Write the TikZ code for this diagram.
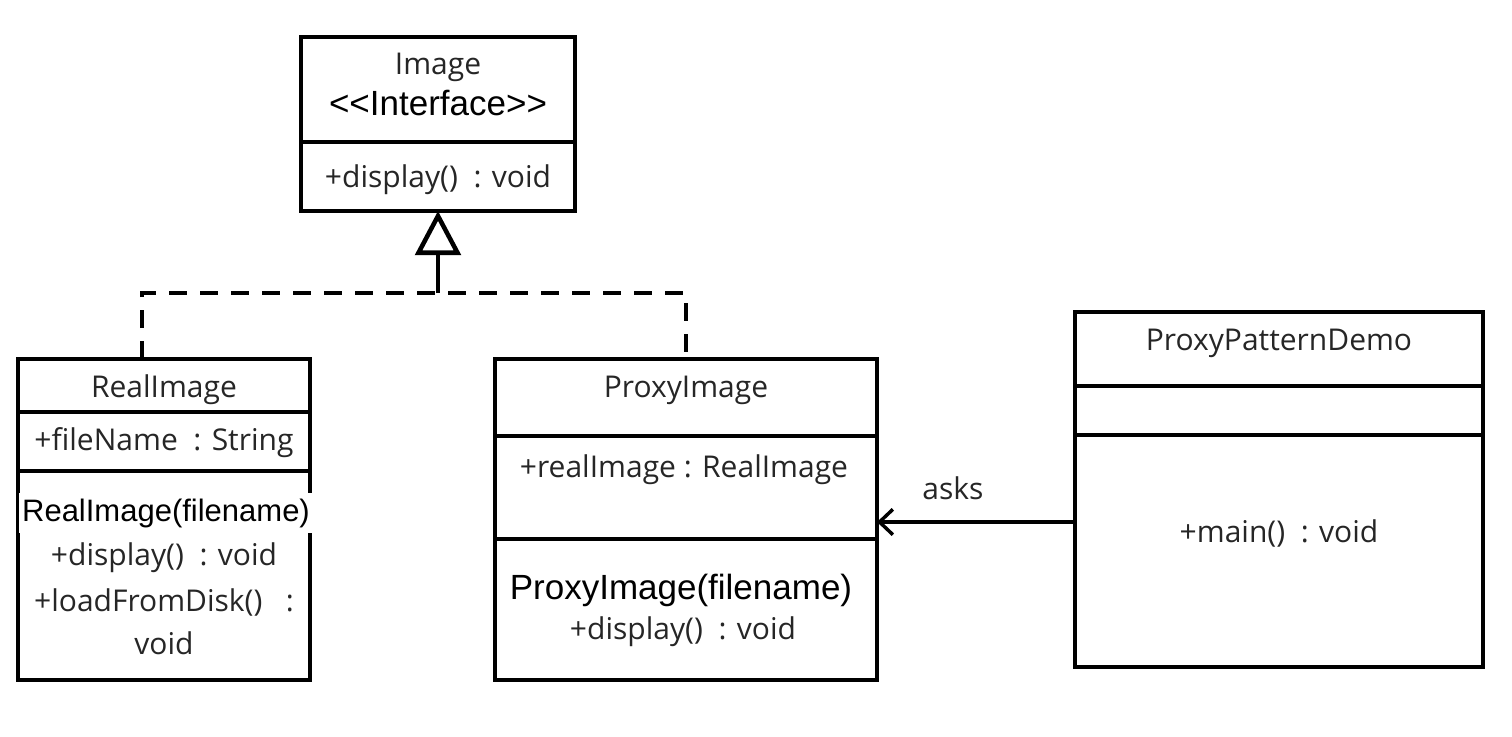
\documentclass[tikz,border=0pt]{standalone}
\usepackage{fontspec}
\setmainfont{Open Sans}
\newfontfamily\arialfont{Liberation Sans}
\usetikzlibrary{arrows.meta, calc}

\tikzset{
  umlbox/.style={draw, line width=3.6pt, outer sep=0pt, inner sep=0pt, anchor=north west},
  umltext/.style={text=black!85, font=\fontsize{22.5}{27}\selectfont},
  bigtext/.style={font=\arialfont\fontsize{26.25}{30}\selectfont},
  dashline/.style={line width=3.4pt, dash pattern=on 13.5pt off 9.75pt},
  realize/.style={line width=3.4pt, -{Triangle[open, length=33pt, width=34pt]}},
  asksline/.style={line width=2.6pt, -{Straight Barb[length=10pt, width=19pt]}}
}

\begin{document}
\begin{tikzpicture}[x=0.75pt, y=-0.75pt]
    \useasboundingbox (0,0) rectangle (1512,736);

    % Image, the interface
    \node[umlbox, minimum width=205.5pt, minimum height=78.75pt] (imgHead) at (301,37) {};
    \node[umlbox, minimum width=205.5pt, minimum height=51.75pt] (imgOps) at (imgHead.south west) {};
    \node[umltext] (imgName) at (438,67) {Image};
    \node[bigtext] (imgStereo) at (438,103) {<<Interface>>};
    \node[umltext] (imgOp) at (438,180) {+display()\ \ : void};

    % RealImage
    \node[umlbox, minimum width=219pt, minimum height=39.75pt] (realHead) at (18,359) {};
    \node[umlbox, minimum width=219pt, minimum height=44.25pt] (realAttr) at (realHead.south west) {};
    \node[umlbox, minimum width=219pt, minimum height=156.75pt] (realOps) at (realAttr.south west) {};
    \node[umltext] (realName) at (164,390) {RealImage};
    \node[umltext] (realField) at (164,443) {+fileName\ \ : String};
    \node[fill=white, inner xsep=2pt, inner ysep=0pt, minimum height=30pt,
          font=\arialfont\fontsize{23.25}{28}\selectfont] (realCtor) at (166,513) {RealImage(filename)};
    \node[umltext] (realOp1) at (164,558) {+display()\ \ : void};
    \node[umltext] (realOp2) at (164,602) {+loadFromDisk()\ \ \ :};
    \node[umltext] (realOp3) at (164,643) {void};

    % ProxyImage
    \node[umlbox, minimum width=286.5pt, minimum height=57.75pt] (proxyHead) at (495,359) {};
    \node[umlbox, minimum width=286.5pt, minimum height=77.25pt] (proxyAttr) at (proxyHead.south west) {};
    \node[umlbox, minimum width=286.5pt, minimum height=105.75pt] (proxyOps) at (proxyAttr.south west) {};
    \node[umltext] (proxyName) at (686,390) {ProxyImage};
    \node[umltext] (proxyField) at (684,470) {+realImage : RealImage};
    \node[bigtext] (proxyCtor) at (681,590) {ProxyImage(filename)};
    \node[umltext] (proxyOp) at (683,632) {+display()\ \ : void};

    % ProxyPatternDemo
    \node[umlbox, minimum width=306pt, minimum height=55.5pt] (demoHead) at (1075,312) {};
    \node[umlbox, minimum width=306pt, minimum height=36.75pt] (demoAttr) at (demoHead.south west) {};
    \node[umlbox, minimum width=306pt, minimum height=174pt] (demoOps) at (demoAttr.south west) {};
    \node[umltext] (demoName) at (1279,343) {ProxyPatternDemo};
    \node[umltext] (demoOp) at (1279,533) {+main()\ \ : void};

    % realization of the interface
    \coordinate (join) at (imgOps.south |- 0,293);
    \draw[dashline] ($(realHead.north)+(-22,0)$) |- (join) -| (proxyHead.north);
    \draw[realize] (join) -- (imgOps.south);

    % asks
    \coordinate (asksY) at (0,522);
    \draw[asksline] (demoOps.west |- asksY) -- (proxyAttr.east |- asksY);
    \node[umltext] (asksLbl) at (953,488) {asks};
\end{tikzpicture}
\end{document}
